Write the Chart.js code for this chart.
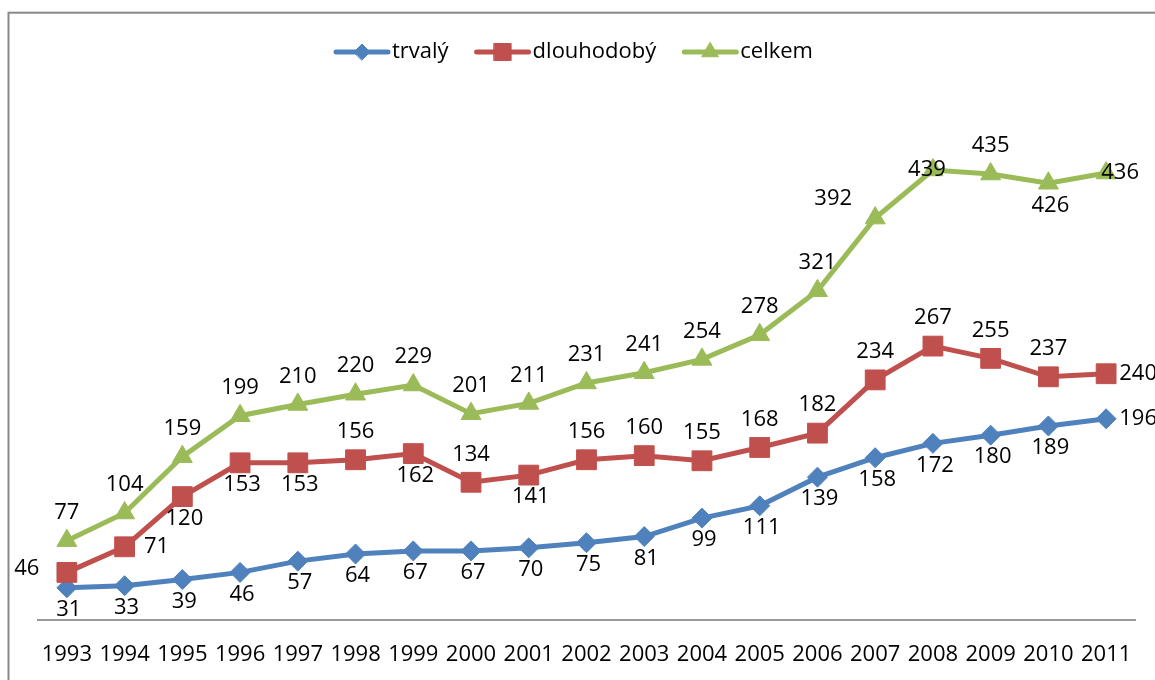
<!DOCTYPE html>
<html><head><meta charset="utf-8">
<script src="https://cdn.jsdelivr.net/npm/chart.js@4/dist/chart.umd.min.js"></script>
<style>html,body{margin:0;padding:0;background:#fff;overflow:hidden}#wrap{width:1155px;height:680px;position:relative}</style>
</head><body><div id="wrap"><canvas id="c" width="1155" height="680"></canvas></div>
<script>
const years = ['1993','1994','1995','1996','1997','1998','1999','2000','2001','2002','2003','2004','2005','2006','2007','2008','2009','2010','2011'];
const trvaly = [31,33,39,46,57,64,67,67,70,75,81,99,111,139,158,172,180,189,196];
const dlouhodoby = [46,71,120,153,153,156,162,134,141,156,160,155,168,182,234,267,255,237,240];
const celkem = [77,104,159,199,210,220,229,201,211,231,241,254,278,321,392,439,435,426,436];
const seriesNames = ['trvalý','dlouhodobý','celkem'];
const seriesColors = ['#4F81BD','#C0504D','#9BBB59'];
const seriesMarkers = ['rectRot','rect','triangle'];
const markerRadius = [10,14,11.5];
const legendMarkerRadius = [8,12,9.5];

const FONT = '"Open Sans", "Liberation Sans", sans-serif';
const labelPlacement = [
  'bbbbbbbbbbbbbbbbbbr',
  'lrbbbababaaaaaaaaar',
  'aaaaaaaaaaaaaaLcabR'
];
const placeOffsets = {a:[0,-28], b:[2,22], r:[32,0], l:[-40,-4], L:[-42,-19], c:[-6,0], R:[14,0]};

const framePlugin = {
  id:'frame',
  beforeDraw(chart){
    const ctx = chart.ctx; ctx.save();
    ctx.strokeStyle = '#888'; ctx.lineWidth = 2;
    ctx.strokeRect(8.5, 12.7, 1300, 800);
    ctx.restore();
  }
};
const labelPlugin = {
  id:'valueLabels',
  afterDatasetsDraw(chart){
    const ctx = chart.ctx; ctx.save();
    ctx.font = '22px ' + FONT; ctx.fillStyle = '#000';
    ctx.textAlign = 'center'; ctx.textBaseline = 'middle';
    chart.data.datasets.forEach((ds, di) => {
      const meta = chart.getDatasetMeta(di);
      meta.data.forEach((pt, i) => {
        const off = placeOffsets[labelPlacement[di][i]];
        ctx.fillText(String(ds.data[i]), pt.x + off[0], pt.y + off[1]);
      });
    });
    ctx.restore();
  }
};
const legendPlugin = {
  id:'customLegend',
  afterDraw(chart){
    const ctx = chart.ctx; ctx.save();
    ctx.font = '22px ' + FONT; ctx.textBaseline = 'middle'; ctx.textAlign = 'left';
    let x = 336; const y = 52;
    chart.data.datasets.forEach((ds, di) => {
      ctx.strokeStyle = ds.borderColor; ctx.lineWidth = 5; ctx.lineCap = 'round';
      ctx.beginPath(); ctx.moveTo(x, y); ctx.lineTo(x + 52, y); ctx.stroke();
      ctx.fillStyle = ds.borderColor; ctx.lineWidth = 1;
      Chart.helpers.drawPoint(ctx, {pointStyle: ds.pointStyle, radius: legendMarkerRadius[di], borderWidth: 1}, x + 26, y);
      ctx.fillStyle = '#000';
      ctx.fillText(ds.label, x + 56, y);
      x += 56 + ctx.measureText(ds.label).width + 28;
    });
    ctx.restore();
  }
};

function build(){
  const dataSets = [trvaly, dlouhodoby, celkem].map((d, i) => ({
    label: seriesNames[i], data: d,
    borderColor: seriesColors[i], backgroundColor: seriesColors[i],
    pointBackgroundColor: seriesColors[i], pointBorderColor: seriesColors[i],
    pointStyle: seriesMarkers[i], pointRadius: markerRadius[i], pointBorderWidth: 1,
    borderWidth: 5, tension: 0, clip: false, order: 2 - i
  }));
  new Chart(document.getElementById('c'), {
    type:'line',
    data:{labels: years, datasets: dataSets},
    options:{
      responsive:false, animation:false, events:[],
      layout:{padding:{left:38, right:20, top:107.5, bottom:0}},
      plugins:{legend:{display:false}, tooltip:{enabled:false}},
      scales:{
        y:{display:false, min:0, max:500},
        x:{offset:true, grid:{display:false, drawTicks:false}, border:{display:true, color:'#999', width:2},
           afterFit(scale){ scale.height = 60.5; },
           ticks:{color:'#000', font:{size:22, family:FONT}, padding:22, autoSkip:false, maxRotation:0}}
      }
    },
    plugins:[framePlugin, labelPlugin, legendPlugin]
  });
}
if (document.fonts && document.fonts.load) {
  document.fonts.load('22px "Open Sans"').then(build, build);
} else build();
</script>
</body></html>
